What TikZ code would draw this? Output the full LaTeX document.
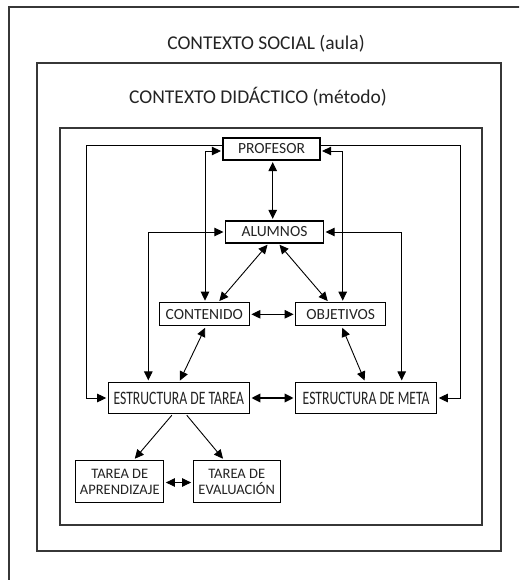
\documentclass[tikz,border=0pt]{standalone}
\usepackage{fontspec}
\setmainfont{Carlito}
\newfontfamily\narrowFont[FakeStretch=0.72]{Carlito}
\usetikzlibrary{arrows.meta}
\definecolor{frameColor}{RGB}{55,55,55}
\definecolor{textColor}{RGB}{35,35,35}
\tikzstyle{plan} = [x = 1pt, y = -1pt]
\tikzstyle{frameLine} = [color=frameColor, line width=1.3pt]
\tikzstyle{frameText} = [text=textColor, font=\fontsize{19.5}{21}\selectfont]
\tikzstyle{boxStyle} = [draw=black, fill=white, line width=1.2pt, inner sep=0pt, text=textColor, font=\fontsize{15.5}{17}\selectfont]
\tikzstyle{wideBox} = [boxStyle, font=\narrowFont\fontsize{19}{20}\selectfont]
\tikzstyle{taskBox} = [boxStyle, align=center, font=\fontsize{14.5}{16}\selectfont]
\tikzstyle{link} = [line width=0.9pt, shorten >=1.5pt, shorten <=1.5pt]
\tikzstyle{both} = [link, {Triangle[length=9pt, width=8.5pt]}-{Triangle[length=9pt, width=8.5pt]}]
\tikzstyle{one} = [link, -{Triangle[length=9pt, width=8.5pt]}]

\begin{document}
\begin{tikzpicture}[plan]
      \useasboundingbox (0,0) rectangle (519,580);
      \clip (0,0) rectangle (519,580);

      % contexts
      \draw [frameLine] (9,7) rectangle (540,600);
      \draw [frameLine] (37,63) rectangle (501,551);
      \draw [frameLine] (60,128) rectangle (482,525);
      \node [frameText] (social) at (266,44) {CONTEXTO SOCIAL (aula)};
      \node [frameText] (didactic) at (258,97) {CONTEXTO DID\'ACTICO (m\'etodo)};

      % boxes
      \node [boxStyle, minimum width=97, minimum height=22] (prof) at (271.5,149) {PROFESOR};
      \node [boxStyle, minimum width=98, minimum height=22] (alum) at (274.5,232) {ALUMNOS};
      \node [boxStyle, minimum width=90, minimum height=23] (cont) at (204.3,314.3) {CONTENIDO};
      \node [boxStyle, minimum width=90, minimum height=23] (obj) at (340.7,314.3) {OBJETIVOS};
      \node [wideBox, minimum width=141, minimum height=31] (tarea) at (178.8,398) {ESTRUCTURA DE TAREA};
      \node [wideBox, minimum width=141, minimum height=31] (meta) at (366.2,398) {ESTRUCTURA DE META};
      \node [taskBox, minimum width=88, minimum height=42] (apr) at (119.8,481.5) {TAREA DE\\APRENDIZAJE};
      \node [taskBox, minimum width=87, minimum height=42] (eval) at (236.7,481.5) {TAREA DE\\EVALUACI\'ON};

      % outer loops
      \draw [one, shorten <=0pt] ([yshift=4pt]prof.west) -| ([xshift=-21.6pt]tarea.west) -- (tarea.west);
      \draw [one, shorten <=0pt] ([yshift=4pt]prof.east) -| ([xshift=23.6pt]meta.east) -- (meta.east);
      \draw [both] ([yshift=-2pt]prof.west) -| ([xshift=0.7pt]cont.north);
      \draw [both] ([yshift=-2pt]prof.east) -| ([xshift=2pt]obj.north);
      \draw [both] (alum.west) -| ([xshift=-30.5pt]tarea.north);
      \draw [both] (alum.east) -| ([xshift=35.5pt]meta.north);

      % inner links
      \draw [both] (prof.south -| 272.7,0) -- (alum.north -| 272.7,0);
      \draw [both] ([xshift=-6pt]alum.south) -- ([xshift=14pt]cont.north);
      \draw [both] ([xshift=4pt]alum.south) -- ([xshift=-12pt]obj.north);
      \draw [both] (cont.east) -- (obj.west);
      \draw [both] ([xshift=1.5pt]cont.south) -- ([xshift=0.5pt]tarea.north);
      \draw [both] ([xshift=1pt]obj.south) -- ([xshift=-1pt]meta.north);
      \draw [both, line width=2pt] (tarea.east) -- (meta.west);
      \draw [one] ([xshift=-6pt]tarea.south) -- ([xshift=14pt]apr.north);
      \draw [one] ([xshift=7pt]tarea.south) -- ([xshift=-12.7pt]eval.north);
      \draw [both] ([yshift=-1pt]apr.east) -- ([yshift=-1pt]eval.west);
    \end{tikzpicture}
\end{document}
